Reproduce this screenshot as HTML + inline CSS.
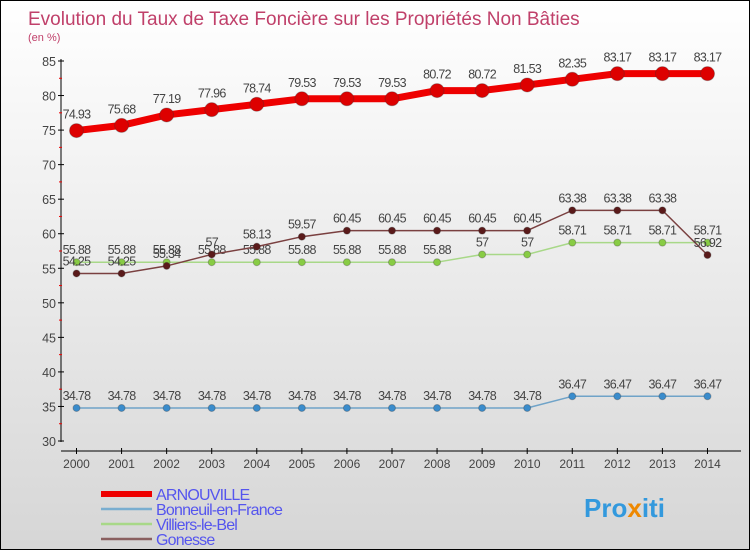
<!DOCTYPE html>
<html><head><meta charset="utf-8"><style>
body{margin:0}
#c{width:750px;height:550px;box-sizing:border-box;border:1px solid #000;background:linear-gradient(#ffffff,#d6d6d6);position:relative;overflow:hidden;font-family:"Liberation Sans",sans-serif}
</style></head><body>
<div id="c">
<svg id="s" width="750" height="550" style="position:absolute;left:0;top:0"></svg>
</div>
<script>
const years=[2000,2001,2002,2003,2004,2005,2006,2007,2008,2009,2010,2011,2012,2013,2014];
const arnouville=[74.93,75.68,77.19,77.96,78.74,79.53,79.53,79.53,80.72,80.72,81.53,82.35,83.17,83.17,83.17];
const bonneuil=[34.78,34.78,34.78,34.78,34.78,34.78,34.78,34.78,34.78,34.78,34.78,36.47,36.47,36.47,36.47];
const villiers=[55.88,55.88,55.88,55.88,55.88,55.88,55.88,55.88,55.88,57,57,58.71,58.71,58.71,58.71];
const gonesse=[54.25,54.25,55.34,57,58.13,59.57,60.45,60.45,60.45,60.45,60.45,63.38,63.38,63.38,56.92];
const yTicks=[30,35,40,45,50,55,60,65,70,75,80,85];
const NS="http://www.w3.org/2000/svg";
const s=document.getElementById('s');
const X=i=>75.5+i*45.07;
const Y=v=>440-(v-30)*380/55;
function el(t,a,p){const e=document.createElementNS(NS,t);for(const k in a)e.setAttribute(k,a[k]);(p||s).appendChild(e);return e;}
function txt(x,y,str,a,p){const e=el('text',Object.assign({x:x,y:y},a),p);e.textContent=str;return e;}
let t=txt(27,24,'Evolution du Taux de Taxe Foncière sur les Propriétés Non Bâties',{fill:'#c0406a','font-size':19});

t=txt(27,40,'(en %)',{fill:'#c0406a','font-size':11});

let a=el('line',{x1:60,y1:58,x2:60,y2:441,stroke:'#000','stroke-width':1});

a=el('line',{x1:60,y1:450,x2:740,y2:450,stroke:'#000','stroke-width':1});

yTicks.forEach((v,i)=>{
 el('line',{x1:57,y1:Y(v),x2:63,y2:Y(v),stroke:'#000'});
 if(i<yTicks.length-1)el('line',{x1:58,y1:Y(v+2.5),x2:61,y2:Y(v+2.5),stroke:'#e00'});
 const l=txt(55,Y(v)+5,String(v),{fill:'#444','font-size':12.5,'text-anchor':'end'});
 
});
years.forEach((y,i)=>{
 el('line',{x1:X(i),y1:447,x2:X(i),y2:453,stroke:'#000'});
 const l=txt(X(i),467,String(y),{fill:'#444','font-size':12,'text-anchor':'middle'});
 
});
function series(d,col,dot,w,r,name,labelDy){
 const g=el('g',{});
 
 el('polyline',{points:d.map((v,i)=>X(i)+','+Y(v)).join(' '),fill:'none',stroke:col,'stroke-width':w,'stroke-linejoin':'round'},g);
 d.forEach((v,i)=>{
  const c=el('circle',{cx:X(i),cy:Y(v),r:r,fill:dot,stroke:'#333','stroke-opacity':0.3},g);
  
  const l=txt(X(i),Y(v)+labelDy,String(v),{fill:'#444','font-size':12.5,'text-anchor':'middle','letter-spacing':-0.7},g);
  
 });
}
series(bonneuil,'#6fa3c8','#3a8ccc',1.5,3.5,'bonneuil',-8);
series(villiers,'#a8d888','#88cc44',1.5,3.5,'villiers',-8);
series(gonesse,'#7a4040','#5a1a1a',1.5,3.5,'gonesse',-8);
series(arnouville,'#ee0000','#dd0000',7,7,'arnouville',-12);
const leg=[['ARNOUVILLE','#ee0000',6],['Bonneuil-en-France','#7aaed0',2.5],['Villiers-le-Bel','#a8d888',2.5],['Gonesse','#8a6060',2.5]];
leg.forEach((e,i)=>{
 const g=el('g',{});
 const y=493+i*15;
 el('line',{x1:100,y1:y,x2:151,y2:y,stroke:e[1],'stroke-width':e[2]},g);
 txt(155,y+6,e[0],{fill:'#5555ee','font-size':16,'letter-spacing':-0.8},g);
});
const lg=el('text',{x:583,y:516,'font-size':26,'font-weight':'bold'});

[['Pro','#3399dd'],['x','#ee8800'],['iti','#3399dd']].forEach(p=>{const sp=el('tspan',{fill:p[1]},lg);sp.textContent=p[0];});
</script>
</body></html>
